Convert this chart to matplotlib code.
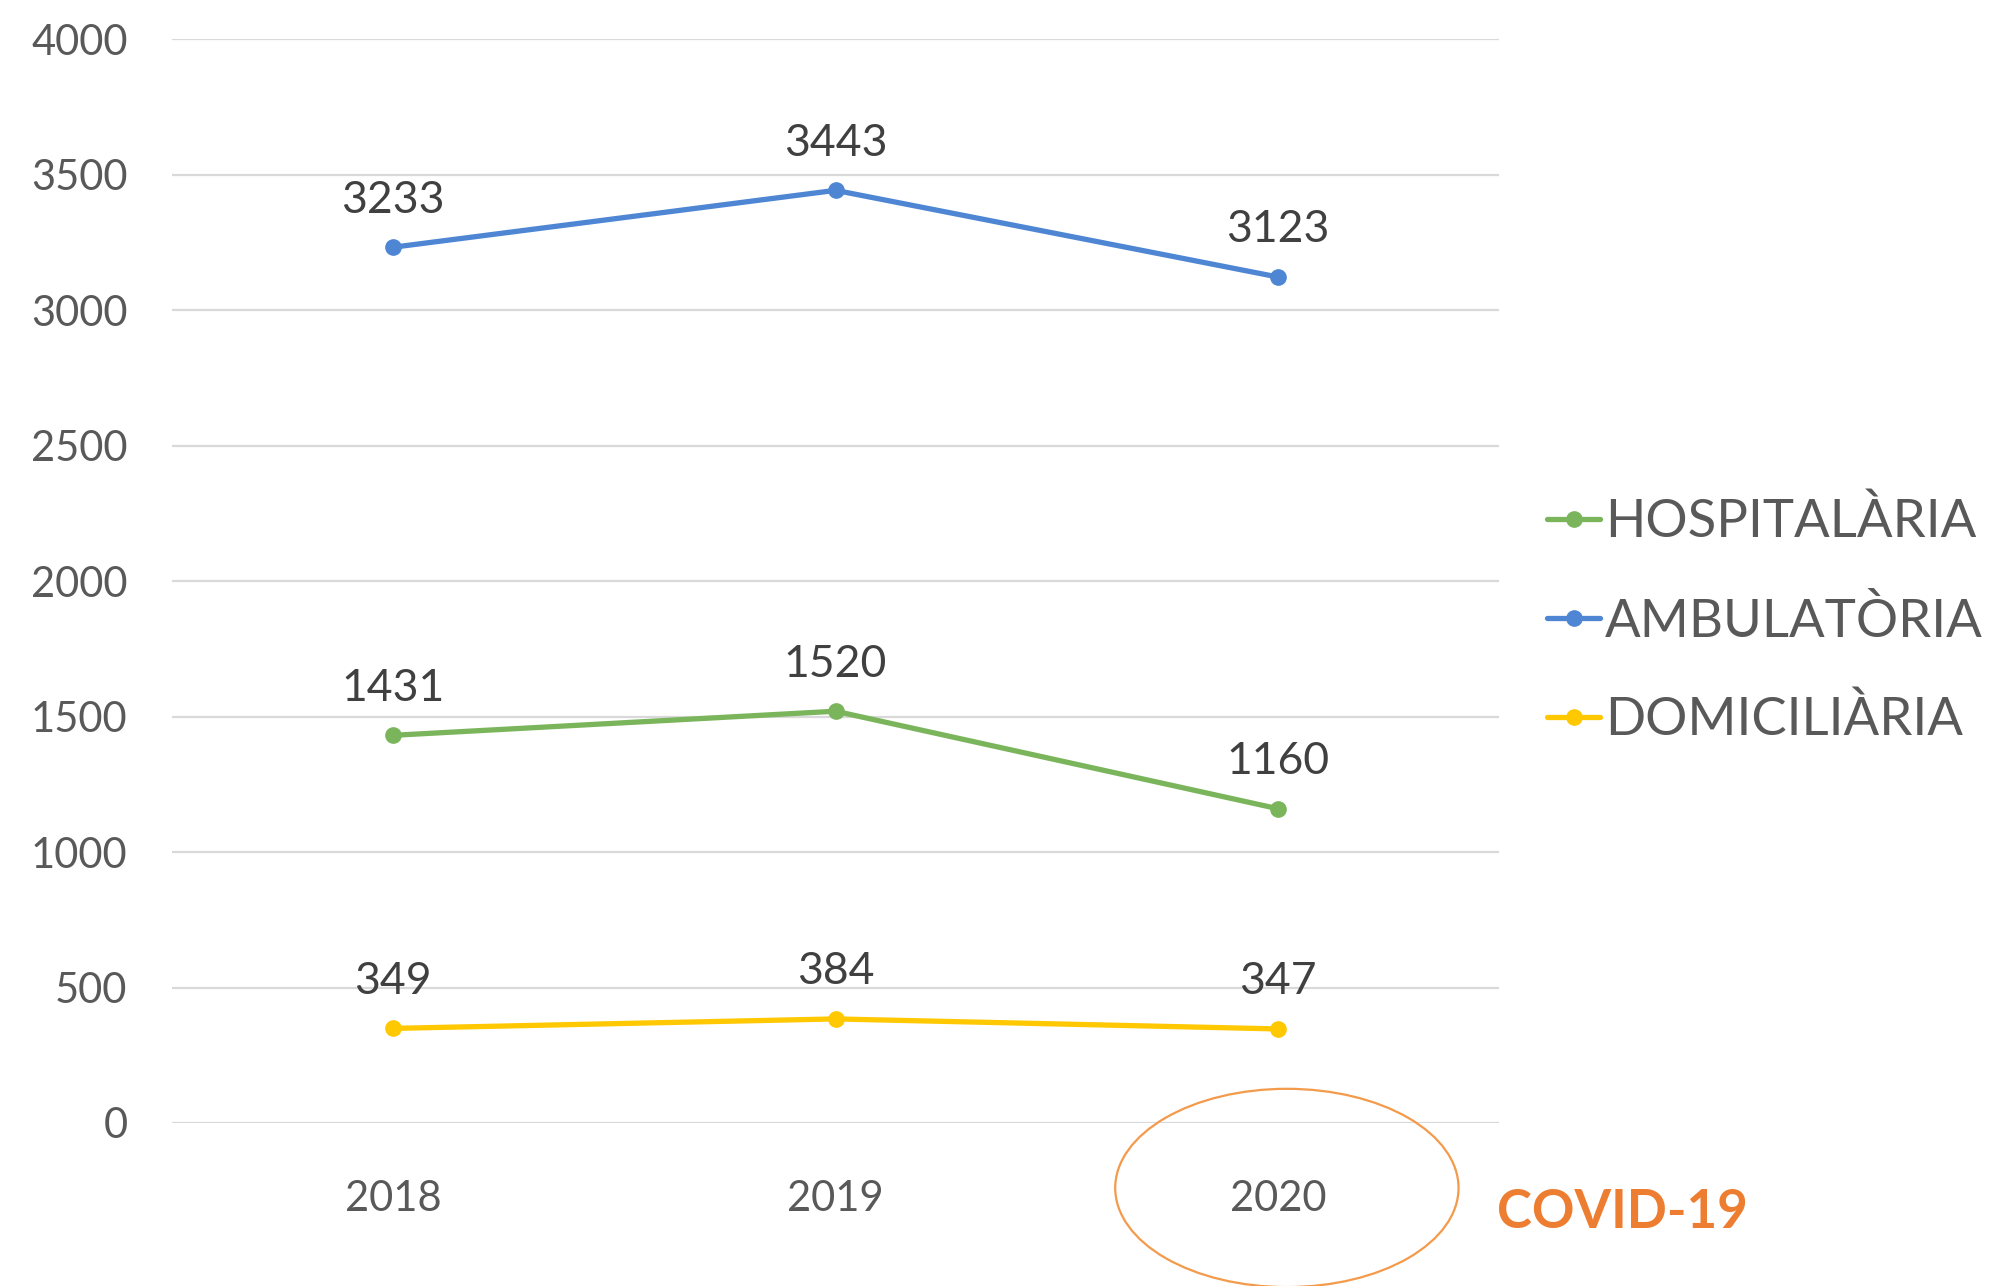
import matplotlib
matplotlib.use('Agg')
import matplotlib.pyplot as plt
import matplotlib.transforms as mtransforms
from matplotlib.patches import Ellipse

# Dades
anys = ['2018', '2019', '2020']
hospitalaria = [1431, 1520, 1160]
ambulatoria = [3233, 3443, 3123]
domiciliaria = [349, 384, 347]

series = [
    ('HOSPITALÀRIA', hospitalaria, '#7AB55C'),
    ('AMBULATÒRIA', ambulatoria, '#4E86D4'),
    ('DOMICILIÀRIA', domiciliaria, '#FFC800'),
]

plt.rcParams['font.family'] = ['Lato', 'DejaVu Sans']

fig = plt.figure(figsize=(19.99, 12.86), dpi=100)
ax = fig.add_axes([0.086, 0.1268, 0.664, 0.8425])

x = list(range(len(anys)))
for nom, valors, color in series:
    ax.plot(x, valors, color=color, lw=3.8, marker='o', ms=11,
            solid_capstyle='round', label=nom, zorder=3)
    for xi, v in zip(x, valors):
        ax.annotate(str(v), (xi, v), xytext=(0, 34), textcoords='offset points',
                    ha='center', va='center', fontsize=32, color='#404040')

ax.set_xlim(-0.5, len(anys) - 0.5)
ax.set_ylim(0, 4000)
ax.set_yticks(range(0, 4001, 500))
ax.set_xticks(x)
ax.set_xticklabels(anys)
ax.yaxis.grid(True, color='#D9D9D9', lw=1.6)
ax.set_axisbelow(True)
for s in ax.spines.values():
    s.set_visible(False)
ax.tick_params(axis='both', length=0, labelsize=30, labelcolor='#595959')
ax.tick_params(axis='x', pad=41)
ax.tick_params(axis='y', pad=32)

# Llegenda
fig.legend(loc='center left', bbox_to_anchor=(0.774, 0.517), frameon=False,
           fontsize=38, labelcolor='#595959', handlelength=1.0,
           handletextpad=0.1, labelspacing=0.95, borderpad=0, borderaxespad=0)

# Cercle al voltant de 2020 i etiqueta COVID-19
trans = mtransforms.blended_transform_factory(ax.transData, ax.transAxes)
ax.add_patch(Ellipse((x[2] + 0.02, -0.060), 0.776, 0.183, transform=trans,
                     fill=False, ec='#F39A4B', lw=1.6, clip_on=False))
fig.text(0.749, 0.057, 'COVID-19', color='#ED7D31', fontsize=38,
         fontweight='bold', ha='left', va='center')

fig.savefig('out.png', dpi=100)
